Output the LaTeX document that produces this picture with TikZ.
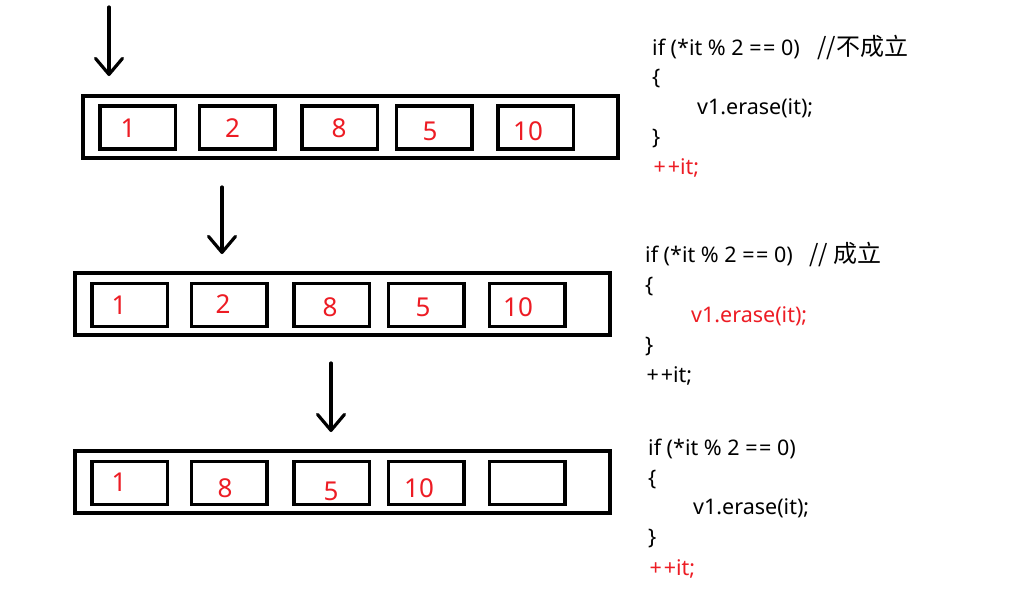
\documentclass[tikz,border=0pt]{standalone}
\usepackage{fontspec}
\setmainfont{Noto Sans}
\newfontfamily\cjk{Noto Sans CJK SC}
\usetikzlibrary{arrows.meta}
\definecolor{myred}{RGB}{237,28,36}
\newcommand{\eqeq}{=\kern1.6pt=}
\newcommand{\plpl}{+\kern1.8pt+}
\begin{document}
\begin{tikzpicture}[x=1pt,y=-1pt,
  outerbox/.style={draw=black,line width=4pt,minimum width=535pt,minimum height=62pt,inner sep=0pt},
  cell/.style={draw=black,line width=3.5pt,minimum width=75.5pt,minimum height=43pt,inner sep=0pt},
  num/.style={text=myred,font=\fontsize{26}{30}\selectfont,inner sep=0pt},
  code/.style={anchor=base west,inner sep=0pt,font=\fontsize{21.5}{26}\selectfont},
  cmt/.style={anchor=base west,inner sep=0pt,font=\cjk\fontsize{24}{28}\selectfont},
  ptr/.style={line width=3.2pt,line cap=round,-{Straight Barb[length=16pt,width=27pt,line cap=round,line join=round]}}
]
\useasboundingbox (0,0) rectangle (1011,595);
\fill[white] (0,0) rectangle (1011,595);

% ---------- row 1 ----------
\node[outerbox] (o1) at (350.5,127) {};
\node[cell] (c1a) at (137.5,127.5) {};
\node[cell] (c1b) at (237,127.5) {};
\node[cell] (c1c) at (339.5,127.5) {};
\node[cell] (c1d) at (434,127.5) {};
\node[cell] (c1e) at (535.5,127.5) {};
\node[num] (n1a) at (128,128) {1};
\node[num] (n1b) at (232.5,128) {2};
\node[num] (n1c) at (339,128) {8};
\node[num] (n1d) at (430,131) {5};
\node[num] (n1e) at (528,131) {10};
\coordinate (a1s) at (109,7);
\coordinate (a1e) at (109,76);
\draw[ptr] (a1s) -- (a1e);

% ---------- row 2 ----------
\node[outerbox] (o2) at (342.5,304) {};
\node[cell] (c2a) at (129.5,305) {};
\node[cell] (c2b) at (229,305) {};
\node[cell] (c2c) at (331.5,305) {};
\node[cell] (c2d) at (426,305) {};
\node[cell] (c2e) at (527,305) {};
\node[num] (n2a) at (119,305) {1};
\node[num] (n2b) at (223,304) {2};
\node[num] (n2c) at (330,307) {8};
\node[num] (n2d) at (423,307) {5};
\node[num] (n2e) at (518,307) {10};
\coordinate (a2s) at (222,187);
\coordinate (a2e) at (222,254);
\draw[ptr] (a2s) -- (a2e);

% ---------- row 3 ----------
\node[outerbox] (o3) at (342.5,482) {};
\node[cell] (c3a) at (129.5,483) {};
\node[cell] (c3b) at (229,483) {};
\node[cell] (c3c) at (331.5,483) {};
\node[cell] (c3d) at (426,483) {};
\node[cell] (c3e) at (527,483) {};
\node[num] (n3a) at (119,482) {1};
\node[num] (n3b) at (225,488) {8};
\node[num] (n3c) at (331,491) {5};
\node[num] (n3d) at (419,488) {10};
\coordinate (a3s) at (331,363);
\coordinate (a3e) at (331,432);
\draw[ptr] (a3s) -- (a3e);

% ---------- code 1 ----------
\node[code] (k1a) at (652,55) {if (*it \% 2 \eqeq{} 0)};
\node[cmt] (k1c) at (817,55) {//不成立};
\node[code] (k1b) at (652,84.75) {\{};
\node[code] (k1d) at (697,114.5) {v1.erase(it);};
\node[code] (k1e) at (652,144.25) {\}};
\node[code,text=myred] (k1f) at (653.5,174) {\plpl{}it;};

% ---------- code 2 ----------
\node[code] (k2a) at (645,262) {if (*it \% 2 \eqeq{} 0)};
\node[cmt] (k2c) at (809,262) {// 成立};
\node[code] (k2b) at (645,292) {\{};
\node[code,text=myred] (k2d) at (691,322) {v1.erase(it);};
\node[code] (k2e) at (645,352) {\}};
\node[code] (k2f) at (646.5,382) {\plpl{}it;};

% ---------- code 3 ----------
\node[code] (k3a) at (648,455) {if (*it \% 2 \eqeq{} 0)};
\node[code] (k3b) at (648,485) {\{};
\node[code] (k3d) at (693,514.5) {v1.erase(it);};
\node[code] (k3e) at (648,544.5) {\}};
\node[code,text=myred] (k3f) at (649.5,575) {\plpl{}it;};
\end{tikzpicture}
\end{document}
